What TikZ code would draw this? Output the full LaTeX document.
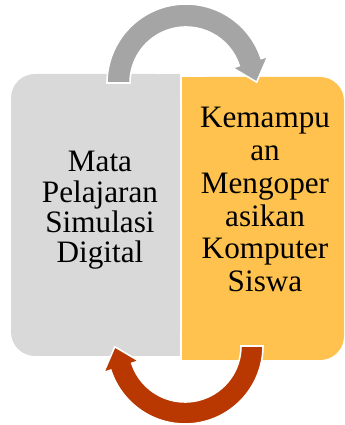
\documentclass[tikz,border=0pt]{standalone}
\usepackage{fontspec}
\setmainfont{Liberation Serif}
\usetikzlibrary{calc}
\usepackage{xcolor}

\definecolor{boxgray}{RGB}{217,217,217}
\definecolor{boxgold}{RGB}{255,194,79}
\definecolor{arrowgray}{RGB}{165,165,165}
\definecolor{arrowred}{RGB}{185,55,0}

\begin{document}
\begin{tikzpicture}[x=0.75pt, y=0.75pt,
    txt/.style={align=center, text=black},
    block/.style={draw=white, line width=1.2pt}]
            \useasboundingbox (0,0) rectangle (344,425);

            \fill[boxgray, rounded corners=18] (11,69) rectangle (180,351);
            \fill[boxgray] (100,69) rectangle (180,351);
            \fill[boxgold, rounded corners=18] (182,65) rectangle (344,348);
            \fill[boxgold] (182,65) rectangle (260,348);

            \node[txt, font=\fontsize{23.4}{22.7}\selectfont] (mapel) at (100,214.5) {Mata\\Pelajaran\\Simulasi\\Digital};
            \node[txt, font=\fontsize{23.4}{24.6}\selectfont] (kemampuan) at (265,225.3) {Kemampu\\an\\Mengoper\\asikan\\Komputer\\Siswa};

            \coordinate (ctop) at (186,342);
            \path[block, fill=arrowgray] ($(ctop)+(180:56)$) -- ($(ctop)+(180:79)$)
                arc[start angle=180, end angle=18, radius=79]
                -- ($(ctop)+(18:86)$) -- ($(ctop)+(18:67.5)+(-72:21)$) -- ($(ctop)+(18:49)$)
                -- ($(ctop)+(18:56)$) arc[start angle=18, end angle=180, radius=56] -- cycle;

            \coordinate (cbot) at (185,79);
            \path[block, fill=arrowred] ($(cbot)+(0:56)$) -- ($(cbot)+(0:78)$)
                arc[start angle=0, end angle=-162, radius=78]
                -- ($(cbot)+(198:85.5)$) -- ($(cbot)+(198:67)+(108:21)$) -- ($(cbot)+(198:48.5)$)
                -- ($(cbot)+(198:56)$) arc[start angle=-162, end angle=0, radius=56] -- cycle;
        \end{tikzpicture}
\end{document}
